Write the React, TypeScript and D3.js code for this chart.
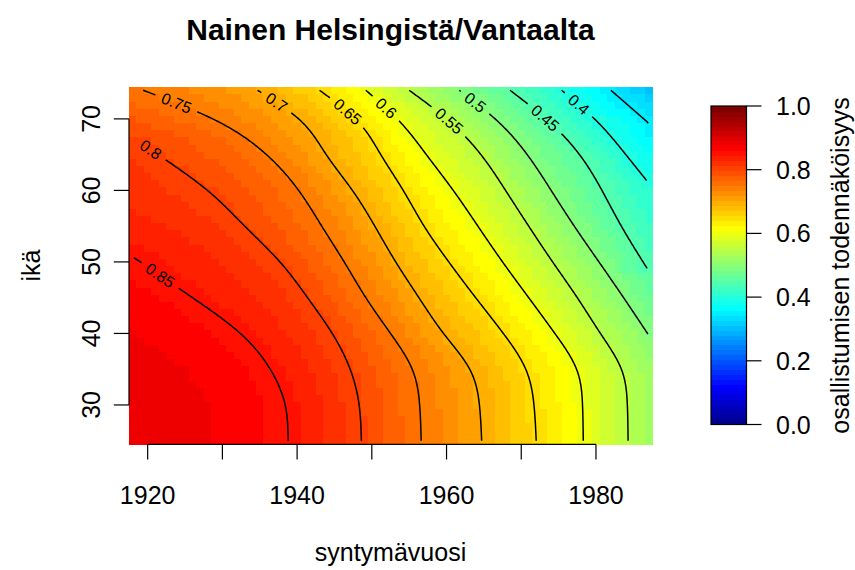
import React, { useMemo } from "react";
import * as d3 from "d3";

// Ages at which the probability profile over birth years is tabulated
const ageNodes = [25, 30, 35, 40, 45, 50, 55, 60, 65, 70, 74];

// Probability at the first (1918) and last (1987) birth year, per age node
const firstYear = 1918;
const lastYear = 1987;
const probFirstYear = [0.887, 0.886, 0.882, 0.875, 0.866, 0.852, 0.835, 0.820, 0.810, 0.782, 0.754];
const probLastYear = [0.527, 0.526, 0.522, 0.499, 0.472, 0.445, 0.423, 0.408, 0.375, 0.346, 0.312];

// Birth year at which the probability equals each level, per age node (null: not within 1918–1987)
const levels = [0.85, 0.8, 0.75, 0.7, 0.65, 0.6, 0.55, 0.5, 0.45, 0.4, 0.35];
const year085 = [1938.8, 1938.4, 1936.4, 1932.4, 1926.0, 1919.0, null, null, null, null, null];
const year080 = [1948.6, 1948.3, 1947.1, 1944.7, 1941.4, 1937.7, 1933.0, 1928.0, 1921.4, null, null];
const year075 = [1956.6, 1956.4, 1955.4, 1952.5, 1949.2, 1946.3, 1943.3, 1940.2, 1935.9, 1928.7, 1919.4];
const year070 = [1964.7, 1964.4, 1963.1, 1959.6, 1956.3, 1953.2, 1950.4, 1947.4, 1943.9, 1940.2, 1934.7];
const year065 = [1972.0, 1971.7, 1970.6, 1967.6, 1963.9, 1960.3, 1957.0, 1954.2, 1951.2, 1947.8, 1943.0];
const year060 = [1978.3, 1978.2, 1977.4, 1974.5, 1971.0, 1967.5, 1964.2, 1960.9, 1957.3, 1953.4, 1949.2];
const year055 = [1984.3, 1984.2, 1983.4, 1980.6, 1977.5, 1974.2, 1971.0, 1967.9, 1964.6, 1960.0, 1955.0];
const year050 = [null, null, null, 1986.9, 1983.7, 1980.4, 1977.1, 1974.0, 1970.8, 1966.5, 1961.7];
const year045 = [null, null, null, null, null, 1986.3, 1983.4, 1980.8, 1977.8, 1973.3, 1968.5];
const year040 = [null, null, null, null, null, null, null, null, 1984.0, 1979.8, 1975.4];
const year035 = [null, null, null, null, null, null, null, null, null, 1986.4, 1982.0];
const levelYears = [year085, year080, year075, year070, year065, year060, year055, year050, year045, year040, year035];

// Image cells: one per birth year and age
const cellAgeFirst = 25;
const cellAgeLast = 74;

// Contour labels: level and approximate spot along the line
const contourLabelLevels = [0.4, 0.45, 0.5, 0.55, 0.6, 0.65, 0.7, 0.75, 0.8, 0.85];
const contourLabelYears = [1977.6, 1973.3, 1963.8, 1960.2, 1952.0, 1946.6, 1937.3, 1923.9, 1920.3, 1921.7];
const contourLabelAges = [71.9, 70.2, 72.3, 69.6, 71.6, 70.7, 72.4, 72.3, 65.4, 48.1];

const xTicks = [1920, 1930, 1940, 1950, 1960, 1970, 1980];
const xTickLabels = [1920, 1940, 1960, 1980];
const yTicks = [30, 40, 50, 60, 70];
const legendTicks = [0, 0.2, 0.4, 0.6, 0.8, 1.0];

const timColors = [
  "#00008F", "#00009F", "#0000AF", "#0000BF", "#0000CF", "#0000DF", "#0000EF", "#0000FF",
  "#0010FF", "#0020FF", "#0030FF", "#0040FF", "#0050FF", "#0060FF", "#0070FF", "#0080FF",
  "#008FFF", "#009FFF", "#00AFFF", "#00BFFF", "#00CFFF", "#00DFFF", "#00EFFF", "#00FFFF",
  "#10FFEF", "#20FFDF", "#30FFCF", "#40FFBF", "#50FFAF", "#60FF9F", "#70FF8F", "#80FF80",
  "#8FFF70", "#9FFF60", "#AFFF50", "#BFFF40", "#CFFF30", "#DFFF20", "#EFFF10", "#FFFF00",
  "#FFEF00", "#FFDF00", "#FFCF00", "#FFBF00", "#FFAF00", "#FF9F00", "#FF8F00", "#FF8000",
  "#FF7000", "#FF6000", "#FF5000", "#FF4000", "#FF3000", "#FF2000", "#FF1000", "#FF0000",
  "#EF0000", "#DF0000", "#CF0000", "#BF0000", "#AF0000", "#9F0000", "#8F0000", "#800000",
];

const FONT = "'Liberation Sans', Arial, Helvetica, sans-serif";

// Monotone cubic (same tangents as d3.curveMonotoneX) through (xs, ys)
function monotoneInterpolator(xs: number[], ys: number[]) {
  const n = xs.length;
  const m = new Array(n).fill(0);
  const sign = (v: number) => (v < 0 ? -1 : 1);
  for (let i = 1; i < n - 1; i++) {
    const h0 = xs[i] - xs[i - 1];
    const h1 = xs[i + 1] - xs[i];
    const s0 = (ys[i] - ys[i - 1]) / h0;
    const s1 = (ys[i + 1] - ys[i]) / h1;
    const p = (s0 * h1 + s1 * h0) / (h0 + h1);
    m[i] = (sign(s0) + sign(s1)) * Math.min(Math.abs(s0), Math.abs(s1), 0.5 * Math.abs(p)) || 0;
  }
  if (n > 2) {
    m[0] = (3 * (ys[1] - ys[0]) / (xs[1] - xs[0]) - m[1]) / 2;
    m[n - 1] = (3 * (ys[n - 1] - ys[n - 2]) / (xs[n - 1] - xs[n - 2]) - m[n - 2]) / 2;
  } else {
    m[0] = m[1] = (ys[1] - ys[0]) / (xs[1] - xs[0]);
  }
  return (x: number) => {
    let i = d3.bisectRight(xs, x) - 1;
    if (i < 0) i = 0;
    if (i > n - 2) i = n - 2;
    const h = xs[i + 1] - xs[i];
    const t = (x - xs[i]) / h;
    const t2 = t * t;
    const t3 = t2 * t;
    return (
      (2 * t3 - 3 * t2 + 1) * ys[i] +
      (t3 - 2 * t2 + t) * h * m[i] +
      (-2 * t3 + 3 * t2) * ys[i + 1] +
      (t3 - t2) * h * m[i + 1]
    );
  };
}

// Natural cubic spline, continued linearly beyond its end nodes
function naturalSpline(xs: number[], ys: number[]) {
  const n = xs.length;
  if (n === 2) {
    const sl = (ys[1] - ys[0]) / (xs[1] - xs[0]);
    return (x: number) => ys[0] + sl * (x - xs[0]);
  }
  const M = new Array(n).fill(0);
  const b = new Array(n).fill(0);
  const c = new Array(n).fill(0);
  const a = new Array(n).fill(0);
  const r = new Array(n).fill(0);
  for (let i = 1; i < n - 1; i++) {
    const h0 = xs[i] - xs[i - 1];
    const h1 = xs[i + 1] - xs[i];
    a[i] = h0;
    b[i] = 2 * (h0 + h1);
    c[i] = h1;
    r[i] = 6 * ((ys[i + 1] - ys[i]) / h1 - (ys[i] - ys[i - 1]) / h0);
  }
  for (let i = 2; i < n - 1; i++) {
    const w = a[i] / b[i - 1];
    b[i] -= w * c[i - 1];
    r[i] -= w * r[i - 1];
  }
  for (let i = n - 2; i >= 1; i--) {
    M[i] = (r[i] - (i < n - 2 ? c[i] * M[i + 1] : 0)) / b[i];
  }
  const evalIn = (x: number) => {
    let i = d3.bisectRight(xs, x) - 1;
    if (i < 0) i = 0;
    if (i > n - 2) i = n - 2;
    const h = xs[i + 1] - xs[i];
    const A = (xs[i + 1] - x) / h;
    const B = (x - xs[i]) / h;
    return A * ys[i] + B * ys[i + 1] + ((A * A * A - A) * M[i] + (B * B * B - B) * M[i + 1]) * (h * h) / 6;
  };
  const h0 = xs[1] - xs[0];
  const slopeStart = (ys[1] - ys[0]) / h0 - (h0 * (2 * M[0] + M[1])) / 6;
  const hN = xs[n - 1] - xs[n - 2];
  const slopeEnd = (ys[n - 1] - ys[n - 2]) / hN + (hN * (M[n - 2] + 2 * M[n - 1])) / 6;
  return (x: number) => {
    if (x < xs[0]) return ys[0] + slopeStart * (x - xs[0]);
    if (x > xs[n - 1]) return ys[n - 1] + slopeEnd * (x - xs[n - 1]);
    return evalIn(x);
  };
}

// Level crossing year as a smooth function of age
const crossingFns = levelYears.map((row) => {
  const as: number[] = [];
  const ys: number[] = [];
  row.forEach((v, i) => {
    if (v != null) {
      as.push(ageNodes[i]);
      ys.push(v);
    }
  });
  return naturalSpline(as, ys);
});
const firstYearFn = naturalSpline(ageNodes, probFirstYear);
const lastYearFn = naturalSpline(ageNodes, probLastYear);

// Probability over birth years at a given age
function profileAt(age: number) {
  const pts: [number, number][] = [[firstYear, firstYearFn(age)]];
  levels.forEach((lv, li) => {
    const yr = crossingFns[li](age);
    if (yr > firstYear + 0.05 && yr < lastYear - 0.05) pts.push([yr, lv]);
  });
  pts.push([lastYear, lastYearFn(age)]);
  pts.sort((p, q) => p[0] - q[0]);
  return monotoneInterpolator(pts.map((p) => p[0]), pts.map((p) => p[1]));
}

function textWidth(s: string, size: number) {
  let w = 0;
  for (const c of s) w += c === "." ? 0.278 : 0.556;
  return w * size;
}

export default function App() {
  const W = 855;
  const H = 570;
  const x = d3.scaleLinear().domain([1917.5, 1987.5]).range([129, 652]);
  const y = d3.scaleLinear().domain([24.5, 74.5]).range([444.3, 86.7]);
  const legendY = d3.scaleLinear().domain([0, 1]).range([424.5, 106]);
  const colorOf = (v: number) => timColors[Math.max(0, Math.min(63, Math.floor(v * 64)))];
  const labelSize = 16;

  const { cells, contourPaths, labels } = useMemo(() => {
    const cells: { yr: number; age: number; v: number }[] = [];
    for (let age = cellAgeFirst; age <= cellAgeLast; age++) {
      const prof = profileAt(age);
      for (let yr = firstYear; yr <= lastYear; yr++) {
        cells.push({ yr, age, v: prof(yr) });
      }
    }

    // Fine sampling of the surface for contour tracing
    const yearStep = 0.1;
    const ageStep = 0.1;
    const fineYears: number[] = [];
    for (let k = 0; firstYear + k * yearStep <= lastYear + 1e-9; k++) fineYears.push(firstYear + k * yearStep);
    const fineAges: number[] = [];
    for (let k = 0; cellAgeFirst + k * ageStep <= cellAgeLast + 1e-9; k++) fineAges.push(cellAgeFirst + k * ageStep);
    const grid = fineAges.map((a) => {
      const prof = profileAt(a);
      return fineYears.map((yr) => prof(yr));
    });

    const lineGen = d3.line<[number, number]>().x((d) => d[0]).y((d) => d[1]);
    const contourPaths: string[] = [];
    const labels: { text: string; cx: number; cy: number; angle: number }[] = [];

    levels.forEach((level) => {
      const pts: [number, number][] = [];
      grid.forEach((vals, ri) => {
        for (let k = 0; k < vals.length - 1; k++) {
          const a = vals[k];
          const b = vals[k + 1];
          if ((a - level) * (b - level) <= 0 && a !== b) {
            const t = (a - level) / (a - b);
            const yr = fineYears[k] + t * (fineYears[k + 1] - fineYears[k]);
            pts.push([x(yr), y(fineAges[ri])]);
            break;
          }
        }
      });
      if (pts.length < 2) return;

      const li = contourLabelLevels.indexOf(level);
      if (li < 0) {
        contourPaths.push(lineGen(pts) as string);
        return;
      }
      const s: number[] = [0];
      for (let k = 1; k < pts.length; k++) {
        s.push(s[k - 1] + Math.hypot(pts[k][0] - pts[k - 1][0], pts[k][1] - pts[k - 1][1]));
      }
      const tx = x(contourLabelYears[li]);
      const ty = y(contourLabelAges[li]);
      let best = 0;
      let bestD = Infinity;
      pts.forEach((p, k) => {
        const d = Math.hypot(p[0] - tx, p[1] - ty);
        if (d < bestD) {
          bestD = d;
          best = k;
        }
      });
      const text = String(level);
      const half = textWidth(text, labelSize) / 2 + 7;
      const s0 = s[best];
      const at = (target: number): [number, number] => {
        const k = Math.max(1, Math.min(pts.length - 1, d3.bisectLeft(s, target)));
        const f = (target - s[k - 1]) / (s[k] - s[k - 1] || 1);
        return [
          pts[k - 1][0] + f * (pts[k][0] - pts[k - 1][0]),
          pts[k - 1][1] + f * (pts[k][1] - pts[k - 1][1]),
        ];
      };
      const before: [number, number][] = [];
      const after: [number, number][] = [];
      pts.forEach((p, k) => {
        if (s[k] < s0 - half) before.push(p);
        else if (s[k] > s0 + half) after.push(p);
      });
      if (before.length) before.push(at(s0 - half));
      if (after.length) after.unshift(at(s0 + half));
      if (before.length > 1) contourPaths.push(lineGen(before) as string);
      if (after.length > 1) contourPaths.push(lineGen(after) as string);

      const p1 = at(Math.max(0, s0 - 10));
      const p2 = at(Math.min(s[s.length - 1], s0 + 10));
      let angle = (Math.atan2(p2[1] - p1[1], p2[0] - p1[0]) * 180) / Math.PI;
      if (angle > 90) angle -= 180;
      if (angle < -90) angle += 180;
      labels.push({ text, cx: pts[best][0], cy: pts[best][1], angle });
    });

    return { cells, contourPaths, labels };
  }, []);

  const cw = x(1) - x(0);
  const ch = y(0) - y(1);
  const legendBand = 1 / timColors.length;
  const plotMidY = (86.7 + 444.3) / 2;

  return (
    <div style={{ position: "fixed", left: 0, top: 0, background: "#fff" }}>
      <svg width={W} height={H} style={{ display: "block" }} fontFamily={FONT}>
        <rect x={0} y={0} width={W} height={H} fill="#ffffff" />

        <text x={390.5} y={40} textAnchor="middle" fontSize={30} fontWeight="bold">
          Nainen Helsingistä/Vantaalta
        </text>

        <g shapeRendering="crispEdges">
          {cells.map((c, i) => (
            <rect
              key={i}
              x={x(c.yr - 0.5)}
              y={y(c.age + 0.5)}
              width={cw + 0.6}
              height={ch + 0.6}
              fill={colorOf(c.v)}
            />
          ))}
        </g>

        <g fill="none" stroke="#000" strokeWidth={1.5}>
          {contourPaths.map((d, i) => (
            <path key={i} d={d} />
          ))}
        </g>
        <g fontSize={labelSize} fill="#000">
          {labels.map((l, i) => (
            <text
              key={i}
              transform={`translate(${l.cx},${l.cy}) rotate(${l.angle})`}
              textAnchor="middle"
              dominantBaseline="central"
            >
              {l.text}
            </text>
          ))}
        </g>

        {/* x axis */}
        <g stroke="#000" strokeWidth={1.2}>
          <line x1={x(xTicks[0])} x2={x(xTicks[xTicks.length - 1])} y1={444.3} y2={444.3} />
          {xTicks.map((t) => (
            <line key={t} x1={x(t)} x2={x(t)} y1={444.3} y2={459.5} />
          ))}
        </g>
        <g fontSize={25} textAnchor="middle" fill="#000">
          {xTickLabels.map((t) => (
            <text key={t} x={x(t)} y={504}>
              {t}
            </text>
          ))}
        </g>
        <text x={390.5} y={561} fontSize={25} textAnchor="middle">
          syntymävuosi
        </text>

        {/* y axis */}
        <g stroke="#000" strokeWidth={1.2}>
          <line x1={129} x2={129} y1={y(yTicks[0])} y2={y(yTicks[yTicks.length - 1])} />
          {yTicks.map((t) => (
            <line key={t} x1={129} x2={113.8} y1={y(t)} y2={y(t)} />
          ))}
        </g>
        <g fontSize={25} textAnchor="middle" fill="#000">
          {yTicks.map((t) => (
            <text key={t} transform={`translate(100,${y(t)}) rotate(-90)`}>
              {t}
            </text>
          ))}
        </g>
        <text transform={`translate(40,${plotMidY}) rotate(-90)`} fontSize={25} textAnchor="middle">
          ikä
        </text>

        {/* colour legend */}
        <g shapeRendering="crispEdges">
          {timColors.map((c, i) => (
            <rect
              key={c}
              x={711}
              y={legendY((i + 1) * legendBand)}
              width={35.5}
              height={legendY(i * legendBand) - legendY((i + 1) * legendBand) + 0.6}
              fill={c}
            />
          ))}
        </g>
        <rect
          x={711}
          y={legendY(1)}
          width={35.5}
          height={legendY(0) - legendY(1)}
          fill="none"
          stroke="#000"
          strokeWidth={1.2}
        />
        <g stroke="#000" strokeWidth={1.2}>
          {legendTicks.map((t) => (
            <line key={t} x1={746.5} x2={761.5} y1={legendY(t)} y2={legendY(t)} />
          ))}
        </g>
        <g fontSize={25} fill="#000">
          {legendTicks.map((t) => (
            <text key={t} x={776} y={legendY(t) + 9}>
              {t.toFixed(1)}
            </text>
          ))}
        </g>
        <text transform={`translate(849,${plotMidY}) rotate(-90)`} fontSize={25} textAnchor="middle">
          osallistumisen todennäköisyys
        </text>
      </svg>
    </div>
  );
}
